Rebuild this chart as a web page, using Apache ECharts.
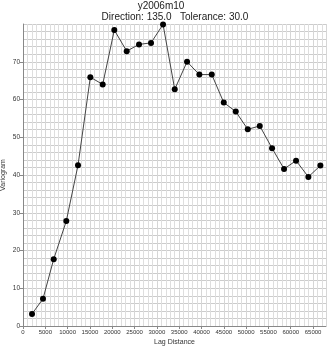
<!DOCTYPE html>
<html><head><meta charset="utf-8">
<script src="https://cdn.jsdelivr.net/npm/echarts@6/dist/echarts.min.js"></script>
<style>html,body{margin:0;padding:0;background:#fff}#c{width:329px;height:351px}</style>
</head><body><div id="c"></div>
<script>
const titleText = "y2006m10";
const subtitleText = "Direction: 135.0   Tolerance: 30.0";
const xName = "Lag Distance";
const yName = "Variogram";
const lagDistance = [2020, 4480, 6880, 9700, 12330, 15090, 17860, 20460, 23240, 26000, 28690, 31380, 34000, 36760, 39520, 42300, 44990, 47680, 50370, 53060, 55810, 58500, 61190, 63950, 66640];
const variogram = [3.2, 7.2, 17.7, 27.8, 42.6, 65.9, 64.0, 78.4, 72.8, 74.6, 75.0, 79.9, 62.7, 70.0, 66.6, 66.6, 59.2, 56.8, 52.1, 53.0, 47.1, 41.6, 43.8, 39.5, 42.5];

const chart = echarts.init(document.getElementById('c'), null, {renderer: 'canvas'});
const font = 'Liberation Sans, Arial, sans-serif';
chart.setOption({
  animation: false,
  title: [
    {text: titleText, left: 161, top: 1, padding: 0, textAlign: 'center',
     textStyle: {fontSize: 10, fontWeight: 'normal', color: '#222', fontFamily: font}},
    {text: subtitleText, left: 175, top: 12, padding: 0, textAlign: 'center',
     textStyle: {fontSize: 10, fontWeight: 'normal', color: '#222', fontFamily: font}}
  ],
  grid: {left: 23, right: 3, top: 24, bottom: 25, containLabel: false, outerBoundsMode: 'none'},
  xAxis: {
    type: 'value', min: 0, max: 67900, interval: 5000,
    name: xName, nameLocation: 'middle', nameGap: 13, nameMoveOverlap: false,
    nameTextStyle: {fontSize: 7, color: '#333', fontFamily: font},
    axisLine: {show: true, lineStyle: {color: '#888'}},
    axisTick: {show: true, length: 3, lineStyle: {color: '#888'}},
    axisLabel: {fontSize: 6, color: '#333', margin: 3, fontFamily: font, showMaxLabel: false,
      formatter: v => (v % 5000 === 0 ? String(v) : '')},
    splitLine: {show: true, lineStyle: {color: '#d6d6d6', width: 1}},
    minorTick: {show: false, splitNumber: 5},
    minorSplitLine: {show: true, lineStyle: {color: '#dedede', width: 1}}
  },
  yAxis: {
    type: 'value', min: 0, max: 80, interval: 10,
    name: yName, nameLocation: 'middle', nameGap: 16, nameRotate: 90, nameMoveOverlap: false,
    nameTextStyle: {fontSize: 7, color: '#333', fontFamily: font},
    axisLine: {show: true, lineStyle: {color: '#888'}},
    axisTick: {show: true, length: 3, lineStyle: {color: '#888'}},
    axisLabel: {fontSize: 6.5, color: '#333', margin: 3, fontFamily: font, showMaxLabel: false},
    splitLine: {show: true, lineStyle: {color: '#cccccc', width: 1}},
    minorTick: {show: false, splitNumber: 5},
    minorSplitLine: {show: true, lineStyle: {color: '#cccccc', width: 1}}
  },
  series: [{
    type: 'line',
    data: lagDistance.map((x, i) => [x, variogram[i]]),
    symbol: 'circle', symbolSize: 6,
    itemStyle: {color: '#000'},
    lineStyle: {color: '#444', width: 1},
    z: 5
  }]
});
</script></body></html>
